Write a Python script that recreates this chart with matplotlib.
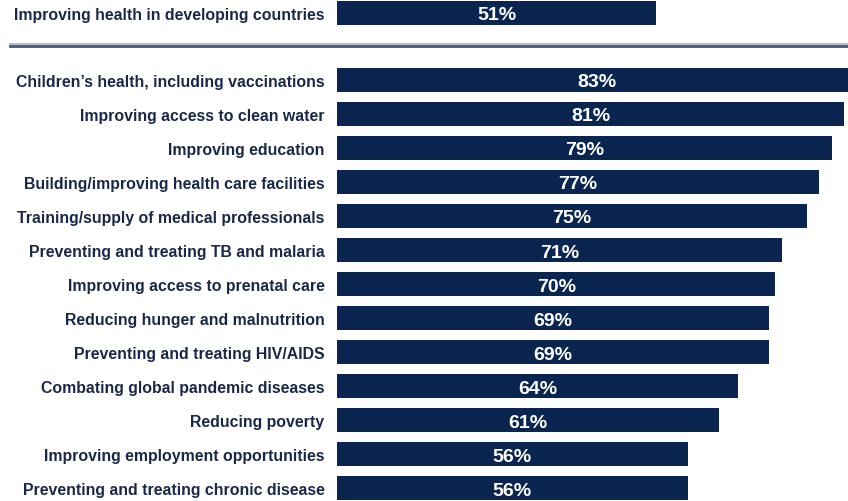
import matplotlib.pyplot as plt

plt.rcParams['font.family'] = ['Liberation Sans', 'DejaVu Sans']

# headline item shown above the divider
top_label = 'Improving health in developing countries'
top_value = 51

categories = [
    'Children\u2019s health, including vaccinations',
    'Improving access to clean water',
    'Improving education',
    'Building/improving health care facilities',
    'Training/supply of medical professionals',
    'Preventing and treating TB and malaria',
    'Improving access to prenatal care',
    'Reducing hunger and malnutrition',
    'Preventing and treating HIV/AIDS',
    'Combating global pandemic diseases',
    'Reducing poverty',
    'Improving employment opportunities',
    'Preventing and treating chronic disease',
]
values = [83, 81, 79, 77, 75, 71, 70, 69, 69, 64, 61, 56, 56]

bar_color = '#0a2550'
label_color = '#1a2848'

fig = plt.figure(figsize=(8.48, 5.02), dpi=100)
ax = fig.add_axes([337 / 848, 0, 511 / 848, 1])

labels = [top_label] + categories
vals = [top_value] + values
ypos = [-1.97] + list(range(len(categories)))

ax.barh(ypos, vals, height=0.71, color=bar_color)
for y, v in zip(ypos, vals):
    ax.text(v / 2, y, f'{v}%', ha='center', va='center_baseline', color='white',
            fontsize=14, fontweight='bold')

# divider between headline and detail items
ax.axhline(-1.05, xmin=-0.64, xmax=1, color='#a9adb8', lw=1.2, clip_on=False)
ax.axhline(-1.0, xmin=-0.64, xmax=1, color='#46557a', lw=2, clip_on=False)

ax.set_xlim(0, 81.6)
ax.set_ylim(12.38, -2.38)
ax.set_yticks(ypos)
ax.set_yticklabels(labels, fontsize=11.4, fontweight='bold', color=label_color,
                   va='center_baseline')
ax.tick_params(axis='y', length=0, pad=9)
ax.set_xticks([])
for s in ax.spines.values():
    s.set_visible(False)

fig.savefig('out.png', dpi=100)
